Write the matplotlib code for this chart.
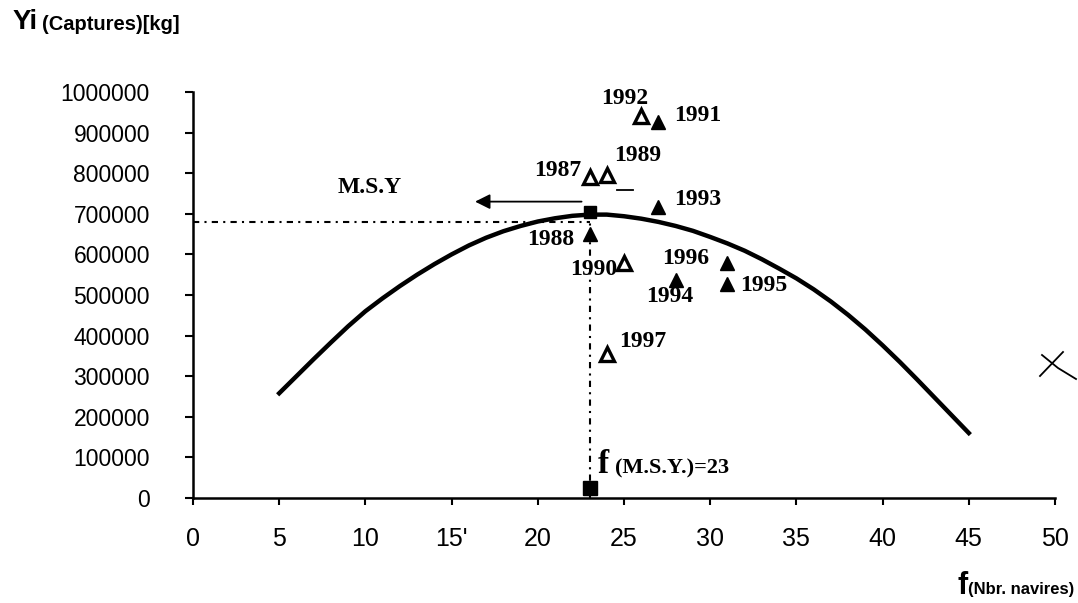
import matplotlib
matplotlib.use('Agg')
import matplotlib.pyplot as plt
from matplotlib.lines import Line2D

# observed catches per year (effort in vessels, catch in kg)
years = [1987, 1988, 1989, 1990, 1991, 1992, 1993, 1994, 1995, 1996, 1997]
effort = [23, 23, 24, 25, 27, 26, 27, 28, 31, 31, 24]
catch_kg = [790000, 650000, 795000, 580000, 925000, 940000, 717000, 538000, 526000, 580000, 354000]
filled = [False, True, False, False, True, False, True, True, True, True, False]
# label offsets (points) from each marker
label_dx = [-23, -28, 22, -22, 28, -12, 28, -4, 26, -30, 26]
label_dy = [5, -4, 14, -5, 5, 13, 5, -12, -1, 3, 9]

# fitted Schaefer curve
curve_f = list(range(5, 46))
curve_y = [258000, 300000, 342000, 383000, 423000, 460000, 492000, 522000, 550000, 576000,
           600000, 622000, 641000, 657000, 670000, 681000, 689000, 695000, 698000, 698000,
           694000, 688000, 680000, 670000, 658000, 643000, 627000, 609000, 588000, 565000,
           541000, 514000, 484000, 451000, 415000, 376000, 335000, 292000, 248000, 204000,
           160000]

f_msy = 23
y_ref = 680000
y_msy = 705000
arrow_y = 730000
arrow_x0, arrow_x1 = 22.7, 16.2

xticks = list(range(0, 55, 5))
xtick_labels = ['0', '5', '10', "15'", '20', '25', '30', '35', '40', '45', '50']
yticks = list(range(0, 1100000, 100000))

W, H = 1078, 603
fig = plt.figure(figsize=(W / 100, H / 100), dpi=100)
ax = fig.add_axes([193 / W, 1 - 498 / H, 862 / W, 406 / H])

def fx(px):
    return px / W

def fy(py):
    return 1 - py / H

serif = 'Liberation Serif'
sans = 'Liberation Sans'

# curve
ax.plot(curve_f, curve_y, color='black', lw=3.2, solid_joinstyle='round', zorder=3)

# MSY reference lines
dashdot = (0, (3, 2.5, 1, 2.5))
ax.plot([0, f_msy], [y_ref, y_ref], color='black', lw=1.5, linestyle=dashdot, zorder=2)
ax.plot([f_msy, f_msy], [y_msy, 0], color='black', lw=1.5, linestyle=dashdot, zorder=2)
ax.plot([f_msy], [y_msy], marker='s', ms=8, color='black', zorder=4)
ax.plot([f_msy], [25000], marker='s', ms=10, color='black', zorder=4, clip_on=False)

ax.annotate('', xy=(arrow_x1, arrow_y), xytext=(arrow_x0, arrow_y),
            arrowprops=dict(arrowstyle='-|>,head_length=0.9,head_width=0.45',
                            color='black', lw=1.3))

# points
for yr, f, c, fl, dx, dy in zip(years, effort, catch_kg, filled, label_dx, label_dy):
    ax.plot([f], [c], marker='^', ms=10, mec='black', mew=2.4 if not fl else 1,
            mfc='black' if fl else 'white', zorder=5)
    ax.annotate(str(yr), (f, c), xytext=(dx, dy), textcoords='offset points',
                ha='center', va='center', fontsize=17, fontweight='bold',
                family=serif, zorder=6)

ax.set_xlim(0, 50)
ax.set_ylim(0, 1000000)
ax.set_xticks(xticks)
ax.set_xticklabels(xtick_labels, family=sans, fontsize=18)
ax.set_yticks(yticks)
ax.set_yticklabels([str(v) for v in yticks], family=sans, fontsize=16.5)
ax.tick_params(axis='y', direction='out', length=6, width=1.5, pad=25)
ax.tick_params(axis='x', direction='out', length=5, width=1.5, pad=16)
for s in ['top', 'right']:
    ax.spines[s].set_visible(False)
for s in ['left', 'bottom']:
    ax.spines[s].set_linewidth(1.8)

# texts
fig.text(fx(13), fy(22), 'Yi', fontsize=20, fontweight='bold', family=sans,
         ha='left', va='center')
fig.text(fx(42), fy(24), '(Captures)[kg]', fontsize=14.5, fontweight='bold', family=sans,
         ha='left', va='center')
fig.text(fx(1074), fy(594), '(Nbr. navires)', fontsize=12, fontweight='bold', family=sans,
         ha='right', va='baseline')
fig.text(fx(958), fy(594), 'f', fontsize=22, fontweight='bold', family=sans,
         ha='left', va='baseline')
fig.text(fx(338), fy(193), 'M.S.Y', fontsize=17, fontweight='bold', family=serif,
         ha='left', va='baseline')
fig.text(fx(598), fy(473), 'f', fontsize=24, fontweight='bold', family=serif,
         ha='left', va='baseline')
fig.text(fx(615), fy(473), '(M.S.Y.)=23', fontsize=16, fontweight='bold', family=serif,
         ha='left', va='baseline')

# scan marks
fig.add_artist(Line2D([fx(1042), fx(1058), fx(1076)], [fy(355), fy(368), fy(379)],
                      color='black', lw=1.3))
fig.add_artist(Line2D([fx(1063), fx(1040)], [fy(352), fy(376)], color='black', lw=1.3))
fig.add_artist(Line2D([fx(617), fx(633)], [fy(190), fy(190)], color='black', lw=1.3))

fig.savefig('out.png', dpi=100)
